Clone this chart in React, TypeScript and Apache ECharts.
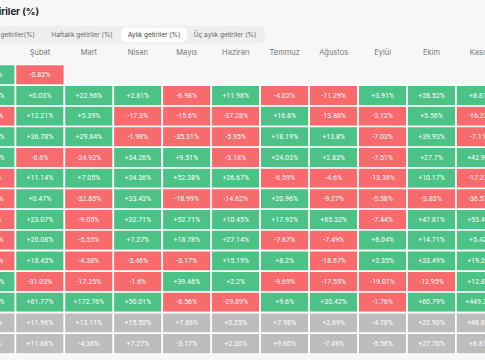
import React, { useEffect, useRef } from "react";
import * as echarts from "echarts";

const months = ["Ocak", "Şubat", "Mart", "Nisan", "Mayıs", "Haziran", "Temmuz", "Ağustos", "Eylül", "Ekim", "Kasım", "Aralık"];
const rowNames = ["2024", "2023", "2022", "2021", "2020", "2019", "2018", "2017", "2016", "2015", "2014", "2013", "Ortalama", "Medyan"];

const y2024 = [0.72, -0.82];
const y2023 = [39.63, 0.03, 22.96, 2.81, -6.98, 11.98, -4.02, -11.29, 3.91, 28.52, 8.81, 12.18];
const y2022 = [-16.68, 12.21, 5.39, -17.3, -15.6, -37.28, 16.8, -13.88, -3.12, 5.56, -16.23, -3.59];
const y2021 = [14.51, 36.78, 29.84, -1.98, -35.31, -5.95, 18.19, 13.8, -7.03, 39.93, -7.11, -18.9];
const y2020 = [29.95, -8.6, -24.92, 34.26, 9.51, -3.18, 24.03, 2.83, -7.51, 27.7, 42.95, 46.92];
const y2019 = [-7.37, 11.14, 7.05, 34.36, 52.38, 26.67, -6.59, -4.6, -13.38, 10.17, -17.27, -5.15];
const y2018 = [-25.41, 0.47, -32.85, 33.43, -18.99, -14.62, 20.96, -9.27, -5.58, -3.83, -36.57, -5.15];
const y2017 = [-0.04, 23.07, -9.05, 32.71, 52.71, 10.45, 17.92, 65.32, -7.44, 47.81, 53.48, 38.89];
const y2016 = [-14.83, 20.08, -5.35, 7.27, 18.78, 27.14, -7.67, -7.49, 6.04, 14.71, 5.42, 30.8];
const y2015 = [-33.05, 18.43, -4.38, -3.46, -3.17, 15.19, 8.2, -18.67, 2.35, 33.49, 19.27, 13.83];
const y2014 = [10.03, -31.03, -17.25, -1.6, 39.46, 2.2, -9.69, -17.55, -19.01, -12.95, 12.82, -15.11];
const y2013 = [44.05, 61.77, 172.76, 50.01, -8.56, -29.89, 9.6, 30.42, -1.76, 60.79, 449.35, -34.81];
const average = [3.35, 11.96, 13.11, 15.5, 7.66, 0.25, 7.98, 2.69, -4.78, 22.9, 46.81, 5.17];
const median = [-0.04, 11.68, -4.38, 7.27, -3.17, 2.2, 9.6, -7.49, -5.58, 27.7, 8.81, -3.59];

const yearRows = [y2024, y2023, y2022, y2021, y2020, y2019, y2018, y2017, y2016, y2015, y2014, y2013];
const summaryRows = [average, median];

const GREEN = "#4cc287";
const RED = "#f76b6d";
const GRAY = "#bdbdbd";

// the chart canvas starts left of the visible page, as the reference is a cropped view
const SHIFT = 34;

function sign(v: number) {
  return v > 0 ? "+" : "";
}

export default function App() {
  const ref = useRef<HTMLDivElement>(null);
  useEffect(() => {
    if (!ref.current) return;
    const chart = echarts.init(ref.current, undefined, { renderer: "svg" });
    const data: any[] = [];
    yearRows.forEach((row, r) => {
      row.forEach((v, c) => {
        data.push({ value: [c, r, v], text: sign(v) + v + "%", color: v >= 0 ? GREEN : RED });
      });
    });
    summaryRows.forEach((row, i) => {
      row.forEach((v, c) => {
        data.push({ value: [c, yearRows.length + i, v], text: sign(v) + v.toFixed(2) + "%", color: GRAY });
      });
    });
    const cellFont = "Roboto, 'DejaVu Sans', sans-serif";
    const uiFont = "Inter, 'Noto Sans', sans-serif";
    chart.setOption({
      animation: false,
      backgroundColor: "#f7f7f8",
      grid: { left: 0.5, top: 64.5, width: 587.4, height: 289.5, containLabel: false },
      xAxis: {
        type: "category",
        position: "top",
        data: months,
        axisLine: { show: false },
        axisTick: { show: false },
        splitLine: { show: false },
        axisLabel: { color: "#777", fontSize: 7.5, margin: 8, fontFamily: uiFont },
      },
      yAxis: {
        type: "category",
        inverse: true,
        data: rowNames,
        axisLine: { show: false },
        axisTick: { show: false },
        axisLabel: { show: false },
        splitLine: { show: false },
      },
      graphic: [
        {
          type: "text",
          x: 39 + SHIFT,
          y: 11,
          style: {
            text: "Bitcoin aylık getiriler (%)",
            fill: "#222",
            font: "bold 9.5px " + uiFont,
            textAlign: "right",
            textVerticalAlign: "middle",
            align: "right",
            verticalAlign: "middle",
          },
        },
        {
          type: "rect",
          shape: { x: -20 + SHIFT, y: 26, width: 285, height: 17.5, r: 6 },
          style: { fill: "#eeeef0" },
        },
        {
          type: "rect",
          shape: { x: 121 + SHIFT, y: 27.5, width: 66, height: 14.5, r: 5 },
          style: { fill: "#ffffff" },
        },
        ...[
          { t: "Günlük getiriler(%)", x: 35, a: "right", c: "#666" },
          { t: "Haftalık getiriler (%)", x: 82, a: "center", c: "#666" },
          { t: "Aylık getiriler (%)", x: 154, a: "center", c: "#444" },
          { t: "Üç aylık getiriler (%)", x: 225, a: "center", c: "#666" },
        ].map((o) => ({
          type: "text",
          x: o.x + SHIFT,
          y: 35,
          style: {
            text: o.t,
            fill: o.c,
            font: "6.5px " + uiFont,
            textAlign: o.a,
            textVerticalAlign: "middle",
            align: o.a,
            verticalAlign: "middle",
          },
        })),
      ],
      series: [
        {
          type: "custom",
          coordinateSystem: "cartesian2d",
          data,
          renderItem: (params: any, api: any) => {
            const item = data[params.dataIndex];
            const c = api.coord([api.value(0), api.value(1)]);
            const s = api.size([1, 1]);
            return {
              type: "group",
              children: [
                {
                  type: "rect",
                  shape: { x: c[0] - s[0] / 2, y: c[1] - s[1] / 2, width: s[0], height: s[1] },
                  style: { fill: item.color, stroke: "#ffffff", lineWidth: 1.6 },
                },
                {
                  type: "text",
                  x: c[0],
                  y: c[1],
                  style: {
                    text: item.text,
                    fill: "#ffffff",
                    font: "7px " + cellFont,
                    textAlign: "center",
                    textVerticalAlign: "middle",
                    align: "center",
                    verticalAlign: "middle",
                  },
                },
              ],
            };
          },
        },
      ],
    });
    return () => chart.dispose();
  }, []);
  return (
    <div
      ref={ref}
      style={{ position: "fixed", left: -SHIFT, top: 0, width: 590, height: 360 }}
    />
  );
}
